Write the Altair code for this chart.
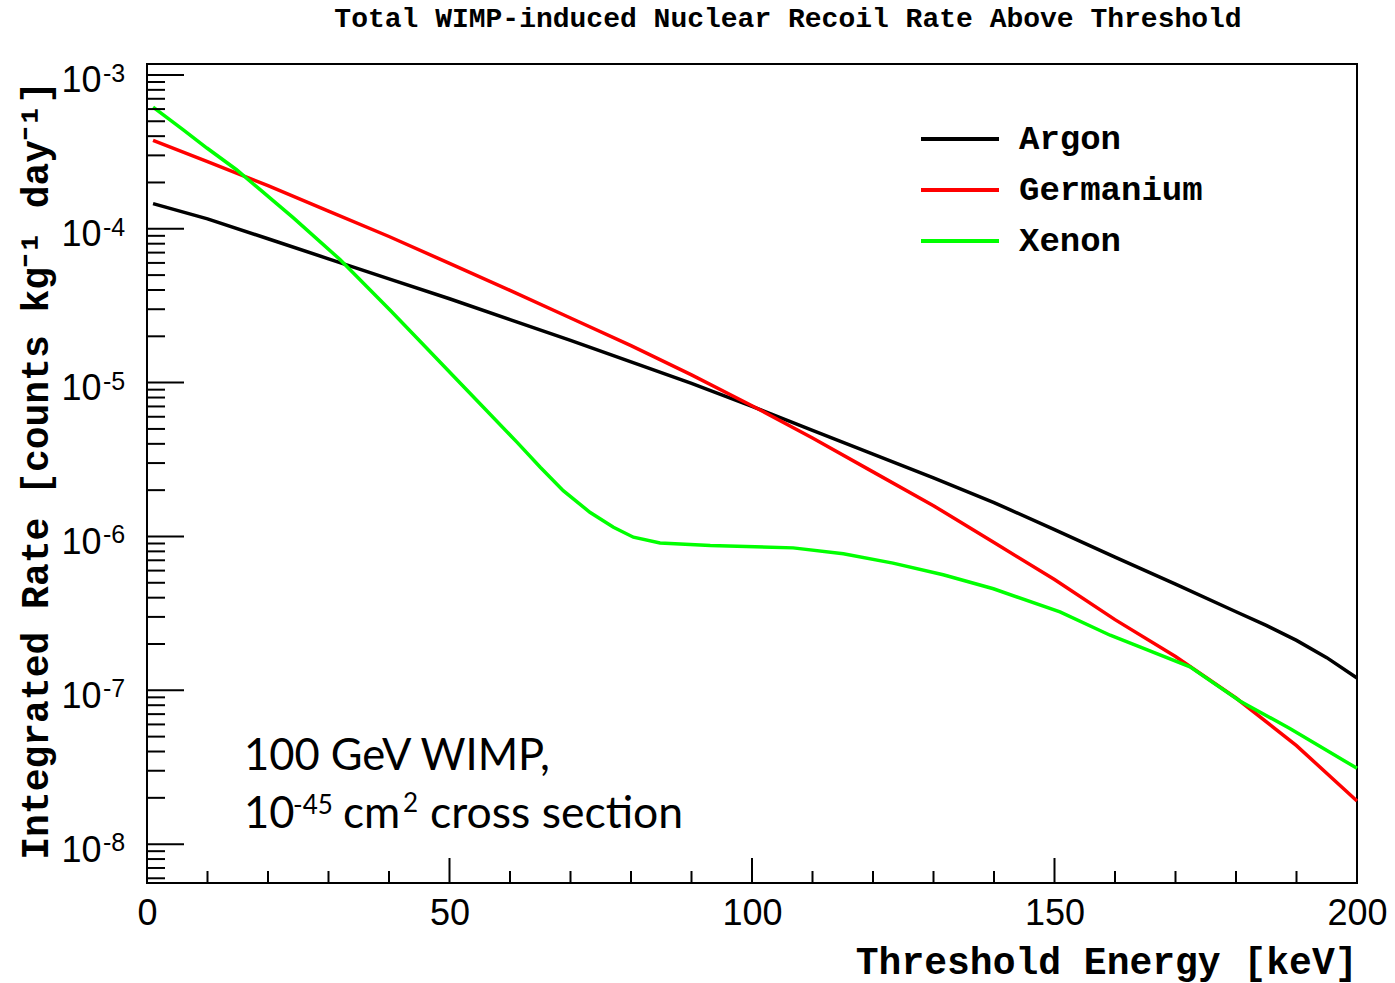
import altair as alt
import pandas as pd

# ---------------- data ----------------
series = ["Argon", "Germanium", "Xenon"]
colors = ["#000000", "#ff0000", "#00ff00"]

argon_kev = [1, 10, 20, 30, 40, 50, 60, 70, 80, 90, 100, 110, 120, 130, 140, 150,
             160, 170, 180, 185, 190, 195, 200]
argon_rate = [1.456e-4, 1.161e-4, 8.61e-5, 6.38e-5, 4.73e-5, 3.51e-5, 2.57e-5,
              1.884e-5, 1.365e-5, 9.89e-6, 7.00e-6, 4.90e-6, 3.43e-6, 2.40e-6,
              1.660e-6, 1.109e-6, 7.33e-7, 4.90e-7, 3.24e-7, 2.64e-7, 2.11e-7,
              1.63e-7, 1.202e-7]

germanium_kev = [1, 10, 20, 30, 40, 50, 60, 70, 80, 90, 100, 110, 120, 130, 140,
                 150, 160, 170, 180, 190, 200]
germanium_rate = [3.750e-4, 2.735e-4, 1.905e-4, 1.303e-4, 8.91e-5, 5.96e-5, 3.98e-5,
                  2.63e-5, 1.738e-5, 1.122e-5, 7.08e-6, 4.37e-6, 2.63e-6, 1.585e-6,
                  9.12e-7, 5.25e-7, 2.88e-7, 1.660e-7, 8.91e-8, 4.37e-8, 1.905e-8]

xenon_kev = [1.0, 6.0, 9.9, 14.8, 18.7, 24.2, 31.9, 40.2, 46.2, 50.6, 55.6, 61.1,
             65.0, 68.8, 73.2, 77.1, 80.4, 84.8, 93.1, 106.8, 115.1, 123.3, 131.6,
             139.9, 150.9, 159.2, 164.1, 172.4, 180.7, 188.9, 200.0]
xenon_rate = [6.17e-4, 4.40e-4, 3.35e-4, 2.42e-4, 1.795e-4, 1.178e-4, 6.31e-5,
              2.95e-5, 1.679e-5, 1.109e-5, 6.92e-6, 4.12e-6, 2.82e-6, 1.986e-6,
              1.436e-6, 1.148e-6, 9.89e-7, 9.08e-7, 8.73e-7, 8.43e-7, 7.71e-7,
              6.71e-7, 5.64e-7, 4.57e-7, 3.23e-7, 2.28e-7, 1.914e-7, 1.419e-7,
              8.50e-8, 5.65e-8, 3.11e-8]

x_major = [0, 50, 100, 150, 200]
x_minor = [10, 20, 30, 40, 60, 70, 80, 90, 110, 120, 130, 140, 160, 170, 180, 190]
y_major = [1e-8, 1e-7, 1e-6, 1e-5, 1e-4, 1e-3]
y_exponents = ["-8", "-7", "-6", "-5", "-4", "-3"]
y_minor = [m * 10.0 ** e for e in range(-9, -3) for m in range(2, 10)]
y_minor = [v for v in y_minor if 5.6e-9 < v < 1.17e-3]

title_text = "Total WIMP-induced Nuclear Recoil Rate Above Threshold"
x_title = "Threshold Energy [keV]"
y_title = "Integrated Rate [counts kg\u207b\u00b9 day\u207b\u00b9]"

# ---------------- build tables ----------------
rows = []
for name, ks, rs in [("Argon", argon_kev, argon_rate),
                     ("Germanium", germanium_kev, germanium_rate),
                     ("Xenon", xenon_kev, xenon_rate)]:
    for k, r in zip(ks, rs):
        rows.append({"material": name, "energy": k, "rate": r})
df = pd.DataFrame(rows)

W, H = 1210, 819
MONO = "Liberation Mono"
SANS = "Liberation Sans"
NOTE = "Lato"

xs = alt.Scale(domain=[0, 200], nice=False, zero=False)
ys = alt.Scale(type="log", domain=[5.59e-9, 1.178e-3], nice=False)

x_axis = alt.Axis(values=x_major, format="d", ticks=False, domain=False, grid=False,
                  labelFont=SANS, labelFontSize=36, labelPadding=13,
                  labelColor="black", labelFlush=False, labelOverlap=False,
                  title=x_title, titleFont=MONO, titleFontWeight="bold",
                  titleFontSize=38, titleColor="black", titleX=W, titleY=90,
                  titleAlign="right", titleAnchor="end", titleBaseline="alphabetic")
y_axis = alt.Axis(values=y_major, labelExpr="'10'", ticks=False, domain=False,
                  grid=False, labelFont=SANS, labelFontSize=36, labelPadding=46,
                  labelColor="black", labelBaseline="alphabetic", labelOffset=17,
                  labelOverlap=False, labelFlush=False,
                  title=y_title, titleFont=MONO, titleFontWeight="bold",
                  titleFontSize=38, titleColor="black", titleAngle=270,
                  titleX=-100, titleY=406, titleAlign="center",
                  titleBaseline="alphabetic")

lines = alt.Chart(df).mark_line(strokeWidth=3.5).encode(
    x=alt.X("energy:Q", scale=xs, axis=x_axis),
    y=alt.Y("rate:Q", scale=ys, axis=y_axis),
    color=alt.Color("material:N", scale=alt.Scale(domain=series, range=colors),
                    legend=alt.Legend(title=None, orient="none", legendX=772, legendY=58,
                                      symbolType="stroke", symbolSize=6084,
                                      symbolStrokeWidth=4, clipHeight=34,
                                      rowPadding=17, labelOffset=18, padding=0,
                                      labelLimit=400,
                                      labelFont=MONO, labelFontWeight="bold",
                                      labelFontSize=34, labelColor="black")),
)

ymaj = alt.Chart(pd.DataFrame({"rate": y_major})).mark_rule(color="black", strokeWidth=2).encode(
    y=alt.Y("rate:Q", scale=ys, axis=y_axis), x=alt.value(0), x2=alt.value(37))
ymin = alt.Chart(pd.DataFrame({"rate": y_minor})).mark_rule(color="black", strokeWidth=2).encode(
    y=alt.Y("rate:Q", scale=ys, axis=y_axis), x=alt.value(0), x2=alt.value(18))
xmaj = alt.Chart(pd.DataFrame({"energy": x_major})).mark_rule(color="black", strokeWidth=2).encode(
    x=alt.X("energy:Q", scale=xs, axis=x_axis), y=alt.value(H), y2=alt.value(H - 25))
xmin = alt.Chart(pd.DataFrame({"energy": x_minor})).mark_rule(color="black", strokeWidth=2).encode(
    x=alt.X("energy:Q", scale=xs, axis=x_axis), y=alt.value(H), y2=alt.value(H - 12))

# exponent of the y tick labels (10^n), placed as a superscript through the y scale
yexp = alt.Chart(pd.DataFrame({"rate": y_major, "exp": y_exponents})).mark_text(
    font=SANS, fontSize=25, align="left", baseline="alphabetic", dy=7, color="black"
).encode(y=alt.Y("rate:Q", scale=ys, axis=y_axis), x=alt.value(-44), text="exp:N")

title = alt.Chart(pd.DataFrame({"t": [title_text]})).mark_text(
    font=MONO, fontWeight="bold", fontSize=28, align="center", baseline="alphabetic",
    color="black").encode(text="t:N", x=alt.value(641), y=alt.value(-37))


def note_piece(txt, x, y, size):
    return alt.Chart(pd.DataFrame({"t": [txt]})).mark_text(
        font=NOTE, fontSize=size, align="left", baseline="alphabetic", color="black"
    ).encode(text="t:N", x=alt.value(x), y=alt.value(y))


notes = [
    note_piece("100 GeV WIMP,", 97, 706, 43.5),
    note_piece("10", 97, 764, 43.5),
    note_piece("-45", 146, 750, 26),
    note_piece("cm", 196, 764, 44),
    note_piece("2", 256, 748, 26),
    note_piece("cross section", 283, 764, 44.5),
]

chart = alt.layer(lines, ymaj, ymin, xmaj, xmin, yexp, title, *notes).properties(
    width=W, height=H,
    autosize=alt.AutoSizeParams(type="none"),
    padding={"left": 147, "top": 64, "right": 38, "bottom": 100},
    background="white",
).configure_view(stroke="black", strokeWidth=2)

chart.save("out.html", embed_options={"renderer": "svg", "actions": False})
